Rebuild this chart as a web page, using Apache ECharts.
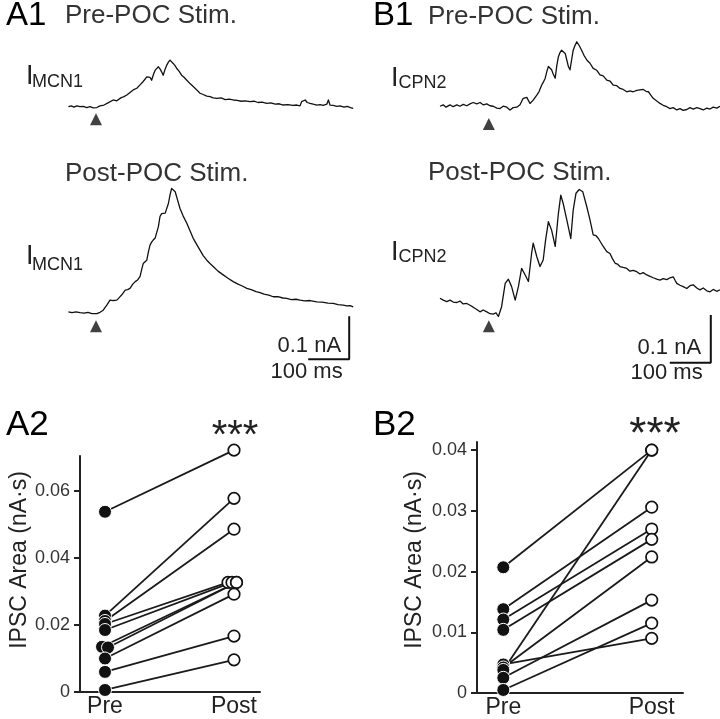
<!DOCTYPE html>
<html><head><meta charset="utf-8">
<script src="https://cdn.jsdelivr.net/npm/echarts@6/dist/echarts.min.js"></script>
<style>html,body{margin:0;padding:0;background:#fff}#c{width:720px;height:719px}</style>
</head><body><div id="c"></div>
<script>
// ---------- data (time in ms, current in nA) ----------
const aPreTrace = [[1,0],[8,0.002],[15,-0.001],[22,0.002],[30,0],[38,0.001],[47,-0.002],[55,0],[63,-0.003],[72,-0.002],[80,0.002],[90,0.004],[100,0.009],[113,0.016],[122,0.014],[132,0.021],[140,0.024],[147,0.028],[155,0.034],[163,0.040],[172,0.044],[180,0.052],[188,0.060],[193,0.058],[197,0.071],[201,0.075],[205,0.070],[209,0.063],[214,0.078],[218,0.087],[222,0.091],[226,0.095],[230,0.090],[234,0.083],[238,0.075],[243,0.090],[247,0.099],[251,0.106],[255,0.111],[259,0.108],[263,0.103],[268,0.097],[272,0.091],[278,0.084],[284,0.075],[290,0.070],[297,0.063],[305,0.055],[313,0.048],[322,0.040],[330,0.032],[338,0.029],[347,0.025],[355,0.024],[363,0.021],[372,0.020],[383,0.021],[393,0.017],[403,0.018],[413,0.016],[423,0.015],[433,0.013],[443,0.014],[455,0.012],[465,0.013],[475,0.010],[485,0.011],[497,0.008],[507,0.009],[518,0.006],[528,0.007],[538,0.004],[550,0.005],[562,0.003],[572,0.004],[580,0.002],[584,0.012],[588,0.010],[593,0.016],[598,0.010],[605,0.008],[613,0.006],[622,0.004],[630,0.005],[638,0.003],[647,0.006],[651,0.016],[655,0.004],[663,0.003],[672,0.001],[680,0.002],[690,-0.001],[698,0.001],[706,-0.002],[713,-0.004]];
const aPostTrace = [[1,0.002],[10,0],[20,0.002],[30,0],[40,-0.001],[50,0.001],[60,-0.002],[72,-0.002],[80,0.001],[88,0.006],[97,0.018],[105,0.030],[113,0.029],[122,0.030],[128,0.036],[134,0.042],[143,0.054],[149,0.055],[155,0.058],[162,0.068],[168,0.074],[174,0.078],[180,0.086],[184,0.102],[188,0.117],[193,0.121],[197,0.125],[201,0.145],[205,0.161],[209,0.168],[213,0.173],[218,0.178],[222,0.181],[226,0.205],[230,0.229],[234,0.236],[238,0.240],[243,0.237],[247,0.237],[251,0.260],[255,0.280],[259,0.296],[263,0.294],[268,0.288],[274,0.268],[280,0.248],[288,0.230],[297,0.213],[305,0.195],[313,0.177],[322,0.162],[330,0.149],[338,0.136],[347,0.125],[355,0.117],[363,0.110],[375,0.099],[388,0.090],[400,0.082],[413,0.074],[425,0.068],[437,0.063],[447,0.058],[458,0.055],[470,0.050],[480,0.048],[490,0.044],[502,0.042],[513,0.038],[525,0.038],[537,0.035],[547,0.034],[558,0.031],[570,0.032],[580,0.030],[592,0.028],[605,0.029],[622,0.026],[635,0.025],[650,0.023],[663,0.022],[675,0.019],[688,0.018],[697,0.016],[705,0.017],[713,0.014]];
const bPreTrace = [[0,0.001],[8,0.004],[15,-0.001],[25,0.004],[33,0],[42,0.004],[50,0.001],[58,0.005],[67,0.002],[75,0.006],[83,0.009],[92,0.006],[100,0.009],[108,0.004],[117,0.006],[125,0.002],[133,0.001],[142,-0.003],[150,-0.004],[158,0.001],[167,-0.001],[175,-0.007],[183,-0.002],[192,-0.001],[200,0.004],[208,0.018],[217,0.020],[225,0.007],[233,0.014],[242,0.025],[248,0.033],[254,0.046],[258,0.052],[263,0.061],[267,0.075],[271,0.086],[275,0.083],[279,0.079],[283,0.070],[288,0.061],[292,0.088],[296,0.107],[300,0.116],[304,0.121],[308,0.119],[313,0.114],[317,0.100],[321,0.086],[325,0.079],[329,0.100],[333,0.121],[338,0.132],[342,0.139],[348,0.131],[354,0.121],[360,0.110],[367,0.100],[375,0.093],[383,0.082],[392,0.078],[400,0.068],[408,0.066],[417,0.057],[425,0.055],[433,0.046],[442,0.045],[450,0.039],[458,0.037],[467,0.032],[475,0.034],[483,0.032],[492,0.035],[500,0.036],[508,0.037],[515,0.033],[521,0.032],[527,0.025],[533,0.018],[542,0.012],[550,0.007],[558,0.003],[567,0],[575,-0.004],[583,-0.002],[592,-0.007],[600,-0.004],[608,-0.008],[617,-0.006],[625,-0.002],[633,-0.005],[642,-0.002],[650,-0.004],[658,-0.007],[667,-0.003],[675,-0.005],[683,-0.001],[692,-0.003],[700,0.001]];
const bPostTrace = [[0,0],[8,-0.004],[17,-0.007],[25,-0.004],[33,-0.008],[42,-0.009],[50,-0.006],[58,-0.012],[67,-0.011],[75,-0.015],[83,-0.019],[92,-0.024],[100,-0.029],[108,-0.025],[117,-0.029],[125,-0.033],[133,-0.034],[140,-0.031],[146,-0.039],[154,-0.018],[163,0.032],[171,0.041],[179,0.025],[188,-0.004],[196,0.025],[204,0.064],[213,0.050],[221,0.036],[229,0.096],[233,0.118],[242,0.089],[250,0.068],[258,0.082],[264,0.125],[271,0.164],[279,0.146],[288,0.111],[296,0.182],[302,0.221],[308,0.203],[317,0.168],[327,0.128],[333,0.189],[340,0.225],[348,0.233],[357,0.228],[367,0.196],[375,0.168],[383,0.136],[390,0.134],[396,0.128],[408,0.111],[417,0.100],[425,0.096],[431,0.085],[438,0.075],[444,0.073],[450,0.068],[458,0.066],[467,0.064],[475,0.058],[483,0.060],[492,0.057],[500,0.052],[508,0.055],[517,0.050],[525,0.047],[533,0.044],[542,0.041],[550,0.039],[558,0.042],[567,0.040],[575,0.044],[583,0.046],[588,0.038],[592,0.032],[600,0.028],[608,0.025],[617,0.021],[625,0.027],[633,0.029],[642,0.022],[650,0.018],[658,0.022],[667,0.016],[675,0.014],[683,0.019],[692,0.015],[700,0.018]];
const stimTimeA = 70;   // ms
const stimTimeB = 122;  // ms
const scaleBarMs = 100;
const scaleBarNA = 0.1;

const pairCats = ['Pre', 'Post'];
const aPre  = [0.0538, 0.0228, 0.0212, 0.0203, 0.0185, 0.0135, 0.0133, 0.0100, 0.0060, 0.0006];
const aPost = [0.0722, 0.0578, 0.0486, 0.0327, 0.0327, 0.0327, 0.0327, 0.0292, 0.0167, 0.0096];
const bPre  = [0.0207, 0.0138, 0.0121, 0.0104, 0.0047, 0.0042, 0.0038, 0.0025, 0.0005];
const bPost = [0.0400, 0.0306, 0.0270, 0.0253, 0.0090, 0.0224, 0.0400, 0.0153, 0.0115];
const aTicks = [0, 0.02, 0.04, 0.06];
const bTicks = [0, 0.01, 0.02, 0.03, 0.04];

// ---------- layout ----------
const FONT = "'Liberation Sans', Arial, Helvetica, sans-serif";
const INK = '#111';
const grids = [], xAxes = [], yAxes = [], series = [];

function traceGrid(left, top, width, height, t0px, basePx, pxPerMs, pxPerNA) {
  const gi = grids.length;
  grids.push({left, top, width, height});
  xAxes.push({type:'value', gridIndex:gi, show:false, min:(left - t0px)/pxPerMs, max:(left + width - t0px)/pxPerMs});
  yAxes.push({type:'value', gridIndex:gi, show:false, min:(basePx - (top + height))/pxPerNA, max:(basePx - top)/pxPerNA});
  return gi;
}
function addTrace(gi, data) {
  series.push({type:'line', xAxisIndex:gi, yAxisIndex:gi, data, symbol:'none', silent:true,
    lineStyle:{width:1.3, color:INK, join:'round'}});
}
function addStim(gi, t, v) {
  series.push({type:'scatter', xAxisIndex:gi, yAxisIndex:gi, data:[[t, v]], symbol:'triangle', symbolSize:12,
    itemStyle:{color:INK}, silent:true, clip:false});
}
function addScaleBar(gi, cornerT, cornerV) {
  series.push({type:'line', xAxisIndex:gi, yAxisIndex:gi, symbol:'none', silent:true, clip:false,
    data:[[cornerT - scaleBarMs, cornerV], [cornerT, cornerV], [cornerT, cornerV + scaleBarNA]],
    lineStyle:{width:2, color:INK, cap:'square'}});
}

const gAPre  = traceGrid(60, 30, 300, 110, 68, 106.7, 0.4, 420);
const gAPost = traceGrid(60, 170, 300, 200, 68, 312.7, 0.4, 420);
const gBPre  = traceGrid(420, 30, 300, 110, 440, 106.7, 0.4, 467);
const gBPost = traceGrid(420, 170, 300, 200, 440, 298.3, 0.4, 467);
addTrace(gAPre, aPreTrace); addTrace(gAPost, aPostTrace);
addTrace(gBPre, bPreTrace); addTrace(gBPost, bPostTrace);
addStim(gAPre, stimTimeA, -0.030); addStim(gAPost, stimTimeA, -0.032);
addStim(gBPre, stimTimeB, -0.037); addStim(gBPost, stimTimeB, -0.060);
addScaleBar(gAPost, 703, -0.111);
addScaleBar(gBPost, 677, -0.138);

function pairedPlot(left, top, right, bottom, prePx, postPx, pxPerVal, ticks, pre, post, preJit, postJit) {
  const gi = grids.length;
  const unit = postPx - prePx;
  grids.push({left, top, width:right - left, height:bottom - top});
  const axLine = {show:true, onZero:false, lineStyle:{color:'#222', width:2}};
  xAxes.push({type:'value', gridIndex:gi, min:(left - prePx)/unit, max:(right - prePx)/unit,
    axisLine:axLine, axisTick:{show:false}, splitLine:{show:false},
    axisLabel:{customValues:[0,1], formatter:v => pairCats[Math.round(v)], fontSize:23, color:'#222', margin:3, fontFamily:FONT}});
  yAxes.push({type:'value', gridIndex:gi, min:0, max:(bottom - top)/pxPerVal,
    axisLine:axLine, splitLine:{show:false},
    axisTick:{show:true, length:6, customValues:ticks, lineStyle:{color:'#222', width:2}},
    axisLabel:{customValues:ticks, formatter:v => v === 0 ? '0' : v.toFixed(2), fontSize:18, color:'#333', margin:10, fontFamily:FONT}});
  const preData = [], postData = [];
  pre.forEach((p, i) => {
    const a = [0 + (preJit[i] || 0)/unit, p], b = [1 + (postJit[i] || 0)/unit, post[i]];
    preData.push(a); postData.push(b);
    series.push({type:'line', xAxisIndex:gi, yAxisIndex:gi, data:[a, b], symbol:'none', silent:true, clip:false,
      lineStyle:{width:1.8, color:'#1a1a1a'}, z:2});
  });
  series.push({type:'scatter', xAxisIndex:gi, yAxisIndex:gi, data:preData, symbolSize:13, clip:false, z:3,
    itemStyle:{color:INK, borderColor:'#fff', borderWidth:1, opacity:1}});
  series.push({type:'scatter', xAxisIndex:gi, yAxisIndex:gi, data:postData, symbolSize:11.5, clip:false, z:4,
    itemStyle:{color:'#fff', borderColor:INK, borderWidth:1.7, opacity:1}});
}
pairedPlot(80, 456, 260, 692, 105, 234, 3350, aTicks, aPre, aPost,
  [0,0,0,0,0,-3,3,0,0,0], [0,0,0,-6,-2,2.5,2.5,0,0,0]);
pairedPlot(477, 442, 683, 693.3, 503.3, 651.7, 6080, bTicks, bPre, bPost, [], []);

// ---------- texts ----------
function txt(text, x, y, size, color, align, rot) {
  return {type:'text', x, y, rotation:rot || 0, silent:true, z:100,
    style:{text, fontSize:size, fontFamily:FONT, fill:color || INK, align:align || 'left', verticalAlign:'middle'}};
}
const texts = [
  txt('A1', 6, 16, 33, '#000'), txt('Pre-POC Stim.', 65, 16, 26, '#333'),
  txt('B1', 373, 16, 33, '#000'), txt('Pre-POC Stim.', 428, 16.5, 26, '#333'),
  txt('Post-POC Stim.', 65, 173.5, 26, '#333'), txt('Post-POC Stim.', 428, 172.5, 26, '#333'),
  txt('I', 26, 76.5, 27, '#222'), txt('MCN1', 32, 82, 18, '#222'),
  txt('I', 26, 256.5, 27, '#222'), txt('MCN1', 32, 265, 18, '#222'),
  txt('I', 391, 78.5, 27, '#222'), txt('CPN2', 398.5, 83.5, 18, '#222'),
  txt('I', 391, 252.5, 27, '#222'), txt('CPN2', 398.5, 257.5, 18, '#222'),
  txt('0.1 nA', 277.5, 346.3, 22, '#222'), txt('100 ms', 270.5, 371.7, 22, '#222'),
  txt('0.1 nA', 637.5, 348.3, 22, '#222'), txt('100 ms', 630.5, 372.5, 22, '#222'),
  txt('A2', 6, 425.5, 35, '#000'), txt('B2', 373, 425.5, 35, '#000'),
  txt('***', 235, 436.5, 40, '#222', 'center'), txt('***', 655, 435.5, 44, '#222', 'center'),
  txt('IPSC Area (nA·s)', 20, 560, 23, '#222', 'center', Math.PI/2),
  txt('IPSC Area (nA·s)', 415, 560, 23, '#222', 'center', Math.PI/2)
];

const chart = echarts.init(document.getElementById('c'), null, {renderer:'canvas'});
chart.setOption({
  animation:false, backgroundColor:'#fff',
  textStyle:{fontFamily:FONT},
  grid:grids, xAxis:xAxes, yAxis:yAxes, series, graphic:texts
});
</script></body></html>
